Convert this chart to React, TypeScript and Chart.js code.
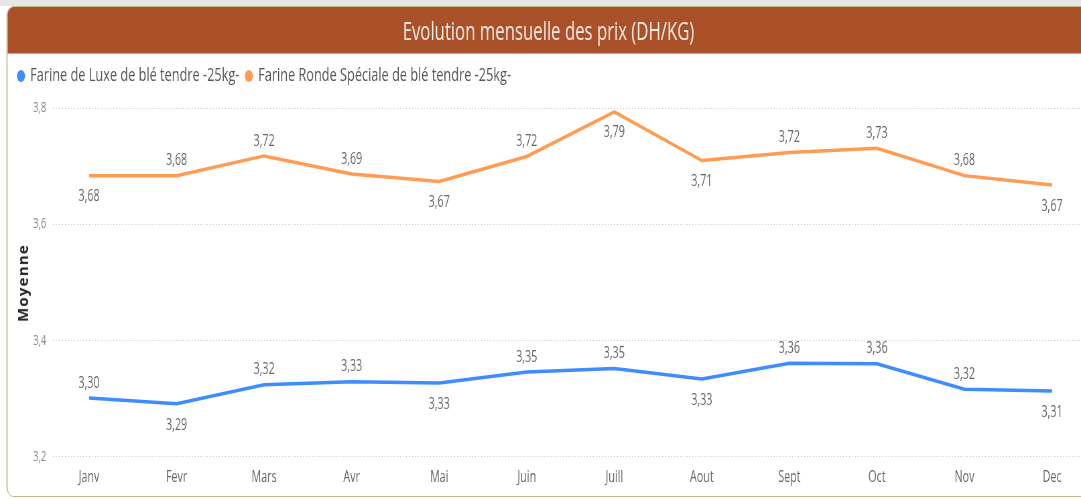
import React, { useEffect, useRef } from "react";
import { Chart, registerables } from "chart.js";

Chart.register(...registerables);

const months = ["Janv", "Fevr", "Mars", "Avr", "Mai", "Juin", "Juill", "Aout", "Sept", "Oct", "Nov", "Dec"];
const luxeValues = [3.301, 3.291, 3.324, 3.329, 3.327, 3.346, 3.352, 3.334, 3.361, 3.36, 3.316, 3.313];
const rondeValues = [3.684, 3.684, 3.718, 3.687, 3.674, 3.717, 3.794, 3.71, 3.724, 3.731, 3.684, 3.668];
const yTicks = [3.2, 3.4, 3.6, 3.8];
const luxeName = "Farine de Luxe de blé tendre -25kg-";
const rondeName = "Farine Ronde Spéciale de blé tendre -25kg-";
const titleText = "Evolution mensuelle des prix (DH/KG)";
const yTitle = "Moyenne";
const luxeLabelSide = ["above", "below", "above", "above", "below", "above", "above", "below", "above", "above", "above", "below"];
const rondeLabelSide = ["below", "above", "above", "above", "below", "above", "below", "below", "above", "above", "above", "below"];

const W = 1613;
const H = 499;
const S = 1081 / W;
const FONT = "'Open Sans', sans-serif";

const fmt = (v: number, d: number) => v.toFixed(d).replace(".", ",");

const dataLabels = {
  id: "dataLabels",
  afterDatasetsDraw(chart: any) {
    const ctx = chart.ctx;
    ctx.save();
    ctx.font = `16px ${FONT}`;
    ctx.fillStyle = "#666666";
    ctx.textAlign = "center";
    ctx.textBaseline = "alphabetic";
    chart.data.datasets.forEach((ds: any, di: number) => {
      const meta = chart.getDatasetMeta(di);
      meta.data.forEach((pt: any, i: number) => {
        const v = ds.data[i].y;
        const cy = ds.labelSides[i] === "above" ? pt.y - 16 : pt.y + 20;
        ctx.fillText(fmt(v, 2), pt.x, cy + 5.7);
      });
    });
    ctx.restore();
  },
};

function LineChart() {
  const ref = useRef<HTMLCanvasElement>(null);
  useEffect(() => {
    if (!ref.current) return;
    const chart = new Chart(ref.current, {
      type: "line",
      data: {
        datasets: [
          {
            label: luxeName,
            data: luxeValues.map((v, i) => ({ x: i, y: v })),
            borderColor: "#3F8CFF",
            backgroundColor: "#3F8CFF",
            borderWidth: 3.5,
            pointRadius: 0,
            tension: 0,
            labelSides: luxeLabelSide,
          } as any,
          {
            label: rondeName,
            data: rondeValues.map((v, i) => ({ x: i, y: v })),
            borderColor: "#FF9B52",
            backgroundColor: "#FF9B52",
            borderWidth: 3.5,
            pointRadius: 0,
            tension: 0,
            labelSides: rondeLabelSide,
          } as any,
        ],
      },
      options: {
        animation: false,
        responsive: false,
        maintainAspectRatio: false,
        layout: { padding: { top: 56.5, left: 17, right: 0, bottom: 0 } },
        plugins: {
          title: { display: false },
          tooltip: { enabled: false },
          legend: {
            position: "top",
            align: "start",
            labels: {
              usePointStyle: true,
              pointStyle: "circle",
              boxWidth: 8.5,
              boxHeight: 8.5,
              padding: 10,
              color: "#555555",
              font: { family: FONT, size: 19 },
              generateLabels: (c: any) =>
                (Chart.defaults.plugins.legend.labels.generateLabels as any)(c).map((l: any) => ({
                  ...l,
                  lineWidth: 0,
                })),
            },
          },
        },
        scales: {
          x: {
            type: "linear",
            min: -0.411,
            max: 11.331,
            afterBuildTicks: (s: any) => {
              s.ticks = months.map((_, i) => ({ value: i }));
            },
            afterFit: (s: any) => {
              s.height = 42.3;
            },
            ticks: {
              callback: (v: any) => months[v],
              color: "#666666",
              font: { family: FONT, size: 16 },
              padding: 11,
              autoSkip: false,
              maxRotation: 0,
            },
            grid: { display: false, drawTicks: false },
            border: { display: false },
          },
          y: {
            min: 3.2,
            max: 3.822,
            afterBuildTicks: (s: any) => {
              s.ticks = yTicks.map((v) => ({ value: v }));
            },
            afterFit: (s: any) => {
              s.width = 62.1;
            },
            ticks: {
              callback: (v: any) => fmt(Number(v), 1),
              color: "#888888",
              font: { family: FONT, size: 14 },
              padding: 10,
            },
            grid: { color: "#c8c8c8", lineWidth: 1, drawTicks: false },
            border: { display: false, dash: [1.5, 3] },
          },
        },
      },
      plugins: [dataLabels],
    });
    return () => chart.destroy();
  }, []);
  return (
    <canvas
      ref={ref}
      width={W}
      height={H}
      style={{ position: "absolute", left: 0, top: 0, width: W, height: H }}
    />
  );
}

export default function App() {
  return (
    <div
      style={{
        position: "fixed",
        left: 0,
        top: 0,
        width: 1081,
        height: 499,
        overflow: "hidden",
        background: "#ffffff",
      }}
    >
      <div style={{ position: "absolute", left: 0, top: 0, width: 1081, height: 6, background: "#e6e6e6" }} />
      <div
        style={{
          position: "absolute",
          left: 0,
          top: 0,
          width: W,
          height: H,
          transform: `scaleX(${S})`,
          transformOrigin: "0 0",
        }}
      >
        <div
          style={{
            position: "absolute",
            left: 10.4,
            top: 6,
            width: W + 40,
            height: 491,
            boxSizing: "border-box",
            border: "1.5px solid #B5A672",
            borderRadius: 10,
            overflow: "hidden",
            background: "#ffffff",
          }}
        >
          <div
            style={{
              position: "absolute",
              left: 0,
              top: 0,
              right: 0,
              height: 46,
              background: "#AB5129",
              borderBottom: "1.5px solid #E3A27E",
            }}
          />
        </div>
        <div
          style={{
            position: "absolute",
            left: 818.4 - 400,
            top: 7,
            width: 800,
            height: 46,
            lineHeight: "46px",
            textAlign: "center",
            fontFamily: FONT,
            fontSize: 25,
            color: "#F4EAE4",
            whiteSpace: "nowrap",
          }}
        >
          {titleText}
        </div>
        <LineChart />
      </div>
      <div
        style={{
          position: "absolute",
          left: 22,
          top: 283,
          transform: "translate(-50%, -50%) rotate(-90deg)",
          fontFamily: FONT,
          fontWeight: 700,
          fontSize: 15,
          letterSpacing: 1.2,
          color: "#252423",
          whiteSpace: "nowrap",
        }}
      >
        {yTitle}
      </div>
    </div>
  );
}
